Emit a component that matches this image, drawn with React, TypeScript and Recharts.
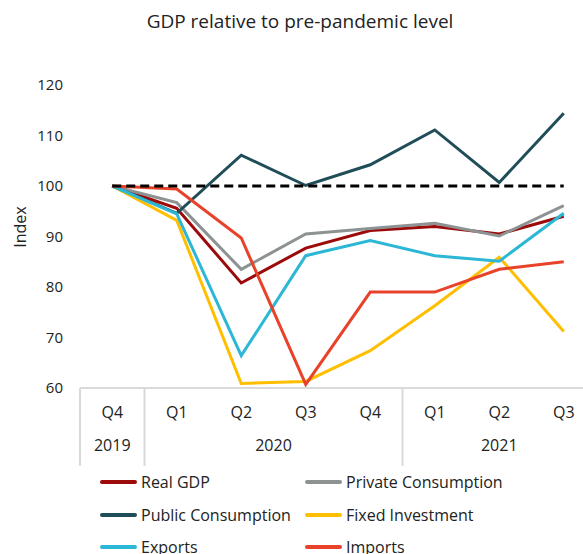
import { Label, Line, LineChart, XAxis, YAxis } from "recharts"

// Quarters, years and index values (Q4 2019 = 100)
const quarters = ["Q4", "Q1", "Q2", "Q3", "Q4", "Q1", "Q2", "Q3"]
const years = ["2019", "2020", "2020", "2020", "2020", "2021", "2021", "2021"]

const realGdp = [100, 95.6, 80.8, 87.7, 91.2, 92.0, 90.5, 94.0]
const privateConsumption = [100, 96.7, 83.5, 90.5, 91.6, 92.6, 90.1, 96.1]
const publicConsumption = [100, 94.6, 106.1, 100.1, 104.2, 111.1, 100.7, 114.4]
const fixedInvestment = [100, 93.2, 60.9, 61.3, 67.4, 76.3, 85.9, 71.2]
const exportsIdx = [100, 94.5, 66.4, 86.2, 89.2, 86.2, 85.1, 94.6]
const importsIdx = [100, 99.4, 89.7, 60.7, 79.0, 79.0, 83.5, 85.0]
const baseline = [100, 100, 100, 100, 100, 100, 100, 100]

const yTicks = [60, 70, 80, 90, 100, 110, 120]

const series = [
  { key: "realGdp", name: "Real GDP", color: "#9c0a0a", values: realGdp },
  { key: "privateConsumption", name: "Private Consumption", color: "#8d9292", values: privateConsumption },
  { key: "publicConsumption", name: "Public Consumption", color: "#1f4d58", values: publicConsumption },
  { key: "fixedInvestment", name: "Fixed Investment", color: "#ffbf00", values: fixedInvestment },
  { key: "exports", name: "Exports", color: "#2bb7d5", values: exportsIdx },
  { key: "imports", name: "Imports", color: "#e8432a", values: importsIdx },
]

const data = quarters.map((q, i) => {
  const row: Record<string, string | number> = { quarter: q, year: years[i], baseline: baseline[i] }
  series.forEach((s) => {
    row[s.key] = s.values[i]
  })
  return row
})

const font = "'Open Sans', sans-serif"
const HALF_BAND = 32.25 // half of one quarter's slot, used as axis padding

function QuarterTick(props: any) {
  const { x, y, index } = props
  const isStart = index === 0 || years[index] !== years[index - 1]
  let groupLen = 0
  if (isStart) {
    for (let j = index; j < years.length && years[j] === years[index]; j++) groupLen++
  }
  const left = x - HALF_BAND
  return (
    <g>
      <text x={x} y={y + 24} textAnchor="middle" dominantBaseline="central" fontSize={16} fill="#222" fontFamily={font}>
        {quarters[index]}
      </text>
      {isStart && (
        <>
          <line x1={left} x2={left} y1={y} y2={y + 78} stroke="#d9d9d9" strokeWidth={2} />
          <text
            x={left + groupLen * HALF_BAND}
            y={y + 57}
            textAnchor="middle"
            dominantBaseline="central"
            fontSize={16}
            fill="#222"
            fontFamily={font}
          >
            {years[index]}
          </text>
        </>
      )}
    </g>
  )
}

export default function App() {
  return (
    <div style={{ position: "absolute", left: 0, top: 0, width: 583, height: 554, overflow: "hidden", background: "#fff", fontFamily: font }}>
      <div style={{ position: "absolute", top: 8, left: 0, width: 600, textAlign: "center", fontSize: 19, color: "#222" }}>
        GDP relative to pre-pandemic level
      </div>
      <LineChart width={600} height={470} data={data} margin={{ top: 85, right: 4, left: 0, bottom: 2 }}>
        <XAxis
          dataKey="quarter"
          height={80}
          interval={0}
          padding={{ left: HALF_BAND, right: HALF_BAND }}
          axisLine={{ stroke: "#d9d9d9", strokeWidth: 2 }}
          tickLine={false}
          tickSize={0}
          tickMargin={0}
          tick={<QuarterTick />}
        />
        <YAxis
          domain={[60, 120]}
          ticks={yTicks}
          width={80}
          axisLine={false}
          tickLine={false}
          tickSize={0}
          tickMargin={17}
          tick={{ fontSize: 15, fill: "#222", fontFamily: font }}
        >
          <Label
            content={() => (
              <text x={20} y={227} transform="rotate(-90 20 227)" textAnchor="middle" dominantBaseline="central" fontSize={16} fill="#222" fontFamily={font}>
                Index
              </text>
            )}
          />
        </YAxis>
        {series.map((s) => (
          <Line
            key={s.key}
            dataKey={s.key}
            name={s.name}
            stroke={s.color}
            strokeWidth={3}
            dot={false}
            type="linear"
            isAnimationActive={false}
          />
        ))}
        <Line dataKey="baseline" stroke="#000" strokeWidth={3} strokeDasharray="9 5" dot={false} isAnimationActive={false} />
      </LineChart>
      <div
        style={{
          position: "absolute",
          left: 100,
          top: 466,
          display: "grid",
          gridTemplateColumns: "205px 240px",
          gridAutoRows: "32.5px",
          fontSize: 16,
          color: "#222",
        }}
      >
        {series.map((s) => (
          <div key={s.key} style={{ display: "flex", alignItems: "center" }}>
            <span style={{ display: "inline-block", width: 37, height: 4, borderRadius: 2, background: s.color, marginRight: 4 }} />
            <span>{s.name}</span>
          </div>
        ))}
      </div>
    </div>
  )
}
